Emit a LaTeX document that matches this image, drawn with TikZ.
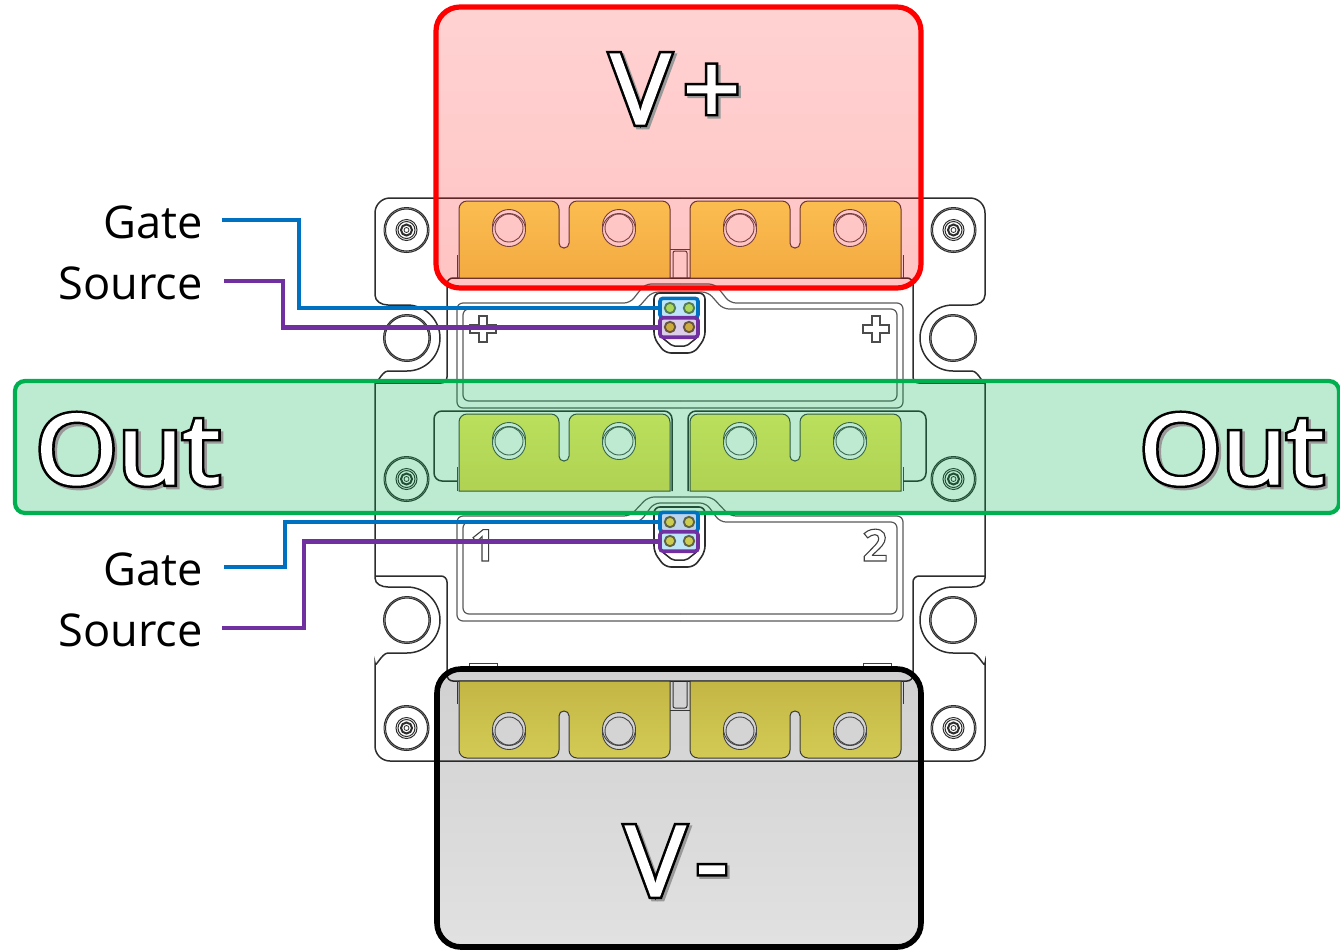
\documentclass[tikz,border=0pt]{standalone}
\usepackage{fontspec}
\setmainfont{Open Sans}
\usetikzlibrary{positioning}

\definecolor{gateblue}{RGB}{0,112,192}
\definecolor{srcpurple}{RGB}{112,48,160}
\definecolor{outgreen}{RGB}{0,176,80}
\definecolor{bodygrey}{RGB}{45,45,45}
\definecolor{lugtop}{RGB}{251,241,98}
\definecolor{lugbot}{RGB}{239,222,84}
\definecolor{pingreen}{RGB}{172,216,90}
\definecolor{ringgreen}{RGB}{85,125,85}
\definecolor{pinamber}{RGB}{203,170,62}
\definecolor{ringamber}{RGB}{105,85,60}
\definecolor{pinolive}{RGB}{204,204,80}
\definecolor{ringolive}{RGB}{95,100,70}
\definecolor{boxcyan}{RGB}{190,230,250}
\definecolor{boxlilac}{RGB}{220,205,235}
\definecolor{boxsteel}{RGB}{188,213,235}
\definecolor{redtop}{RGB}{255,67,67}
\definecolor{redbot}{RGB}{255,5,5}

% white letters, a black edge outside them and a small shade
\newcommand{\hollowtext}[1]{%
  \rlap{\kern1.2pt\raisebox{-1.2pt}{\special{pdf:code 2 Tr 3 w 0.6 0.6 0.6 RG 0.6 0.6 0.6 rg}#1\special{pdf:code 0 Tr}}}%
  \rlap{\special{pdf:code 2 Tr 3.2 w 0 0 0 RG 0 0 0 rg}#1\special{pdf:code 0 Tr}}%
  \special{pdf:code 2 Tr 0.7 w 1 1 1 RG 1 1 1 rg}#1\special{pdf:code 0 Tr}}
% the same with a thin grey edge, for the lid marks
\newcommand{\edgetext}[1]{\special{pdf:code 2 Tr 0.55 w 0.25 0.25 0.25 RG 1 1 1 rg}#1\special{pdf:code 0 Tr}}

% one output lug: #1,#2 foot corner, #3 = 1 tabs up, -1 tabs down, #4,#5 shade on screen
\newcommand{\lug}[5]{%
  \begin{scope}[shift={(#1,#2)},yscale=#3]
    \draw[lugline,top color=#4,bottom color=#5]
      (0,0) [rounded corners=4pt] -- (0,-77) -- (100,-77) [rounded corners=2.4pt] -- (100,-30) -- (110,-30)
      [rounded corners=4pt] -- (110,-77) -- (211,-77) [sharp corners] -- (211,0) -- cycle;
    \foreach \hx in {50,160} {
      \draw[holeline,fill=white] (\hx,-52) circle[radius=16.5];
      \draw[holeline,fill=white] (\hx,-48) circle[radius=16.5];
      \draw[holeline,fill=white] (\hx,-50) circle[radius=14];
    }
  \end{scope}}

% plug housing, #1 = top edge
\newcommand{\housing}[1]{%
  \begin{scope}[shift={(679.5,#1)}]
    \draw[bodyline,line width=0.8pt,rounded corners=3pt] (-25.5,0) -- (25.5,0) -- (25.5,45) -- (14.5,60) -- (-14.5,60) -- (-25.5,45) -- cycle;
    \draw[bodyline,rounded corners=1pt] (-17,45) -- (-7,53) -- (7,53) -- (17,45);
  \end{scope}}

\tikzset{
  bodyline/.style={draw=bodygrey, line width=0.75pt},
  panelline/.style={draw=black!65, line width=0.6pt, rounded corners=3pt},
  lugline/.style={draw=black!75, line width=0.5pt},
  holeline/.style={draw=black!70, line width=0.45pt},
  pinbox/.style={rectangle, draw, rounded corners=1.5pt, line width=1.8pt, inner sep=0pt,
                 minimum width=19pt, minimum height=9.7pt},
  wirelabel/.style={anchor=east, font=\fontsize{22.6}{22.6}\selectfont, inner xsep=9.5pt, inner ysep=0pt,
                    text height=18pt, text depth=0pt},
  gatewire/.style={draw=gateblue, line width=2.3pt},
  srcwire/.style={draw=srcpurple, line width=2.3pt},
  pinmark/.style={line width=0.95pt},
  outlabel/.style={anchor=base west, inner sep=0pt, xscale=1.09, font=\fontsize{48.5}{48.5}\selectfont},
  vlabel/.style={anchor=base west, inner sep=0pt, xscale=1.03, font=\fontsize{49}{49}\selectfont},
  digit/.style={anchor=base, inner sep=0pt, font=\bfseries\fontsize{22}{22}\selectfont}
}

\begin{document}
\begin{tikzpicture}[x=0.5pt, y=-0.5pt]
\useasboundingbox (0,0) rectangle (1340,949);

% left half, then the same mirrored
\foreach \ox/\sx in {0/1, 680/-1} {
\begin{scope}[xshift=\ox*1pt, xscale=\sx]
  % outline with the two mounting slots
  \draw[bodyline] (680,198) -- (390,198) arc[start angle=90, end angle=180, radius=7.5pt] -- (375,295)
    to[out=-90, in=180] (388,305) -- (407,305) arc[start angle=90, end angle=-90, radius=16.5pt] -- (388,371)
    to[out=180, in=-90] (375,382) -- (375,578)
    to[out=-90, in=180] (388,587) -- (407,587) arc[start angle=90, end angle=-90, radius=16.5pt] -- (388,653)
    to[out=180, in=-90] (375,663) -- (375,746) arc[start angle=180, end angle=270, radius=7.5pt] -- (680,761);
  \draw[bodyline, rounded corners=3pt] (680,278) -- (447,278) -- (447,383) -- (375,383);
  \draw[bodyline, rounded corners=3pt] (375,576) -- (447,576) -- (447,681) -- (680,681);
  \draw[lugline] (469,668) -- (469,663) -- (497,663) -- (497,668);
  \draw[lugline] (457,255) -- (457,278);
  \draw[lugline] (457,681) -- (457,704);
  \draw[lugline] (457,467) -- (457,491);
  % post between the lugs
  \draw[lugline] (670,249) -- (680,249) (670,710) -- (680,710);
  \draw[lugline, rounded corners=1pt] (673,278) -- (673,251) -- (680,251);
  \draw[lugline, rounded corners=1pt] (673,681) -- (673,708) -- (680,708);
  % panels
  \draw[panelline] (680,284) -- (645,284) -- (630,303) -- (457,303) -- (457,408) -- (680,408);
  \draw[panelline] (680,292) -- (652,292) -- (637,309) -- (463,309) -- (463,401) -- (680,401);
  \draw[panelline] (680,497) -- (648,497) -- (630,516) -- (457,516) -- (457,621) -- (680,621);
  \draw[panelline] (680,503) -- (654,503) -- (640,522) -- (463,522) -- (463,614) -- (680,614);
  \draw[bodyline, rounded corners=4pt] (672,491) -- (672,411) -- (434,411) -- (434,481) -- (457,481);
  % screws and slot holes
  \foreach \sy in {230,479,728} {
    \draw[bodyline, line width=0.5pt] (406.5,\sy) circle[radius=22.5] circle[radius=21] circle[radius=10.5] circle[radius=8.5];
    \draw[bodyline, line width=1pt] (406.5,\sy) circle[radius=5.5];
    \draw[bodyline, line width=0.4pt] (406.5,\sy) circle[radius=2.5];
  }
  \foreach \sy in {338,620}
    \draw[bodyline, line width=0.5pt] (407,\sy) circle[radius=23.5] circle[radius=22];
\end{scope}
}

% lugs
\foreach \lx in {459,690} {
  \lug{\lx}{278}{1}{lugtop}{lugbot}
  \lug{\lx}{491}{1}{lugtop}{lugbot}
  \lug{\lx}{681}{-1}{lugbot}{lugtop}
}

% marks on the lids
\foreach \mx in {483,876}
  \draw[lugline, draw=black!70, line width=0.6pt] (\mx-4,316) -- (\mx+4,316) -- (\mx+4,325) -- (\mx+13,325) -- (\mx+13,333) -- (\mx+4,333)
    -- (\mx+4,342) -- (\mx-4,342) -- (\mx-4,333) -- (\mx-13,333) -- (\mx-13,325) -- (\mx-4,325) -- cycle;
\node[digit] (digA) at (483,561) {\edgetext{1}};
\node[digit] (digB) at (875,561) {\edgetext{2}};

\housing{293}
\housing{507}

% terminal areas
\draw[draw=red, line width=2.6pt, top color=redtop, bottom color=redbot, fill opacity=0.24, rounded corners=12pt] (436,7) rectangle (921,288);
\draw[draw=outgreen, line width=2.1pt, fill=outgreen, fill opacity=0.26, rounded corners=5pt] (15,381) rectangle (1339,513);
\draw[draw=black, line width=2.8pt, top color=black, bottom color=black!65, fill opacity=0.18, rounded corners=12pt] (437,669) rectangle (921,947);

\node[vlabel] (vplus) at (610,124) {\hollowtext{V\kern6pt+}};
\node[vlabel] (vminus) at (625,896) {\hollowtext{V\kern5pt-}};
\node[outlabel] (outL) at (35,484) {\hollowtext{Out}};
\node[outlabel] (outR) at (1139,484) {\hollowtext{Out}};

% signal plugs
\node[pinbox, draw=gateblue, fill=boxcyan] (gateTop) at (679,308) {};
\node[pinbox, draw=srcpurple, fill=boxlilac] (srcTop) at (679,327.5) {};
\node[pinbox, draw=gateblue, fill=boxsteel] (gateLow) at (679,522) {};
\node[pinbox, draw=srcpurple, fill=boxcyan] (srcLow) at (679,541.5) {};
\foreach \px/\py/\pc/\rc in {670/308/pingreen/ringgreen,689/308/pingreen/ringgreen,670/327/pinamber/ringamber,689/327/pinamber/ringamber,
  670/522/pinolive/ringolive,689/522/pinolive/ringolive,670/541/pinolive/ringolive,689/541/pinolive/ringolive}
  \draw[pinmark, draw=\rc, fill=\pc] (\px,\py) circle[radius=5.2];

\node[wirelabel] (gateLblTop) at (222,220) {Gate};
\node[wirelabel, inner xsep=10.5pt] (srcLblTop) at (224,281) {Source};
\node[wirelabel, inner xsep=10.5pt] (gateLblLow) at (224,567) {Gate};
\node[wirelabel] (srcLblLow) at (222,628) {Source};

\draw[gatewire] (gateLblTop.east) -- ++(77,0) |- (gateTop.west);
\draw[srcwire] (srcLblTop.east) -- ++(59,0) |- (srcTop.west);
\draw[gatewire] (gateLblLow.east) -- ++(61,0) |- (gateLow.west);
\draw[srcwire] (srcLblLow.east) -- ++(82,0) |- (srcLow.west);
\end{tikzpicture}
\end{document}
